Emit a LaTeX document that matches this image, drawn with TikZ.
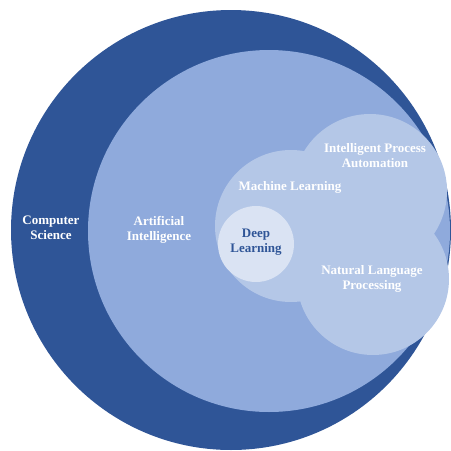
\documentclass[tikz,border=0pt]{standalone}
\usepackage{fontspec}
\setmainfont{Liberation Serif}
\definecolor{csblue}{HTML}{2F5597}
\definecolor{aiblue}{HTML}{8FAADC}
\definecolor{mlblue}{HTML}{B4C7E7}
\definecolor{dlblue}{HTML}{DAE3F3}
\tikzset{
  disc/.style={circle, inner sep=0pt, outer sep=0pt, draw=none},
  lbl/.style={align=center, font=\fontsize{13}{15}\selectfont\bfseries, text=white, inner sep=0pt}
}
\begin{document}
\begin{tikzpicture}[x=1pt,y=-1pt]
\useasboundingbox (0,0) rectangle (451,451);
\node[disc, fill=csblue, minimum size=440pt] (cs) at (231,230) {};
\node[disc, fill=aiblue, minimum size=362pt] (ai) at (269,231) {};
\node[disc, fill=mlblue, minimum size=152pt] (ml) at (291,226) {};
\node[disc, fill=mlblue, minimum size=154pt] (ipa) at (370,191) {};
\node[disc, fill=mlblue, minimum size=152pt] (nlp) at (373,279) {};
\node[disc, fill=dlblue, minimum size=76pt] (dl) at (256,244) {};
\node[lbl] (cst) at (51,228) {Computer\\Science};
\node[lbl] (ait) at (159,229.5) {Artificial\\Intelligence};
\node[lbl] (mlt) at (290,187) {Machine Learning};
\node[lbl] (ipat) at (375,156) {Intelligent Process\\Automation};
\node[lbl, text=csblue] (dlt) at (256,242) {Deep\\Learning};
\node[lbl] (nlpt) at (372,279) {Natural Language\\Processing};
\end{tikzpicture}
\end{document}
